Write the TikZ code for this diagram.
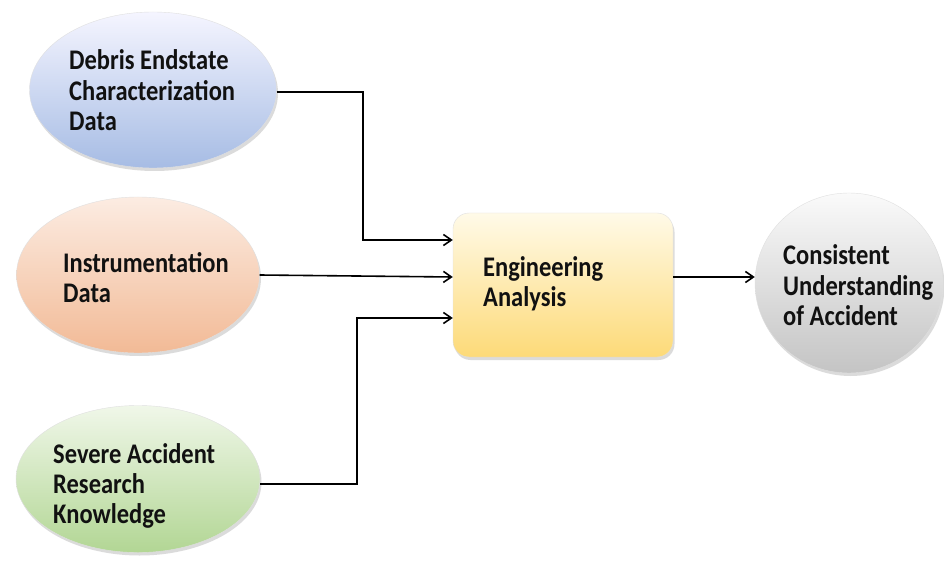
\documentclass[tikz,border=0pt]{standalone}
\usepackage{fontspec}
\setmainfont{Carlito}
\usetikzlibrary{shapes.geometric,arrows.meta,shadows}
\definecolor{txt}{HTML}{111111}
\newcommand{\lines}[1]{\scalebox{1}[1.16]{\begin{tabular}[t]{@{}l@{}}#1\end{tabular}}}
\begin{document}
\begin{tikzpicture}[x=1pt,y=-1pt,
  shade/.style={drop shadow={opacity=0.28,shadow xshift=1.5pt,shadow yshift=-3pt}},
  blob/.style={ellipse, inner sep=0pt, draw=black!12, line width=0.4pt, shade},
  lbl/.style={anchor=base west, inner sep=0pt, text=txt, font=\bfseries\fontsize{24.5}{25.9}\selectfont},
  conn/.style={line width=1.6pt, -{Straight Barb[length=8pt,width=11pt,line width=1.6pt]}}
]
\useasboundingbox[fill=white] (0,0) rectangle (944,561);

% shapes
\node[blob, minimum width=247pt, minimum height=156pt,
      top color=blue!4!white, bottom color={rgb,255:red,166;green,188;blue,228}] (deb) at (153,90) {};
\node[blob, minimum width=243pt, minimum height=156pt,
      top color={rgb,255:red,252;green,236;blue,226}, bottom color={rgb,255:red,242;green,186;blue,150}] (ins) at (138,275) {};
\node[blob, minimum width=244pt, minimum height=147pt,
      top color={rgb,255:red,240;green,247;blue,233}, bottom color={rgb,255:red,178;green,214;blue,148}] (sev) at (138,479) {};
\node[rectangle, rounded corners=16pt, inner sep=0pt, draw=black!12, line width=0.4pt, shade,
      minimum width=220pt, minimum height=144pt,
      top color={rgb,255:red,255;green,250;blue,232}, bottom color={rgb,255:red,253;green,218;blue,120}] (eng) at (563,285) {};
\node[blob, minimum width=188pt, minimum height=180pt,
      top color={rgb,255:red,250;green,250;blue,250}, bottom color={rgb,255:red,196;green,196;blue,196}] (con) at (849,283) {};

% labels
\node[lbl] (tdeb) at (69,70) {\lines{Debris Endstate\\Characterization\\Data}};
\node[lbl] (tins) at (63,272) {\lines{Instrumentation\\Data}};
\node[lbl] (tsev) at (53,463) {\lines{Severe Accident\\Research\\Knowledge}};
\node[lbl] (teng) at (483,276) {\lines{Engineering\\Analysis}};
\node[lbl] (tcon) at (783,265) {\lines{Consistent\\Understanding\\of Accident}};

% connectors
\draw[conn] ([yshift=-2pt]deb.east) -- ++(86,0) |- ([yshift=45pt]eng.west);
\draw[conn] (ins.east) -- ([yshift=8pt]eng.west);
\draw[conn] ([yshift=-5pt]sev.east) -- ++(97,0) |- ([yshift=-33pt]eng.west);
\draw[conn] ([yshift=8pt]eng.east) -- ([yshift=8pt]eng.east -| con.west);
\end{tikzpicture}
\end{document}
